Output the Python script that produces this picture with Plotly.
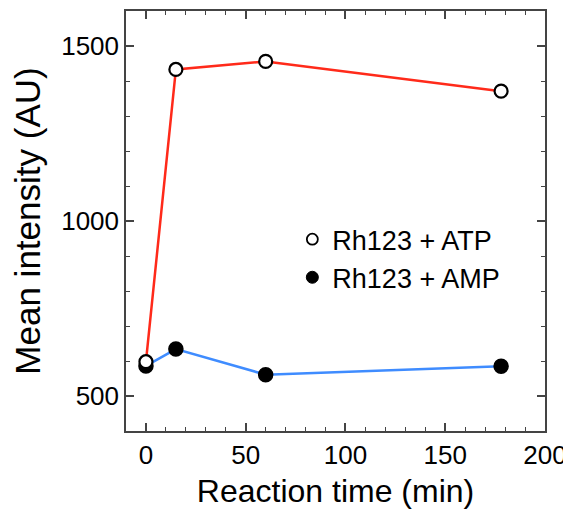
import plotly.graph_objects as go

time_atp = [0, 15, 60, 178]
intensity_atp = [598, 1433, 1456, 1371]
time_amp = [0, 15, 60, 178]
intensity_amp = [586, 634, 561, 585]

label_atp = "Rh123 + ATP"
label_amp = "Rh123 + AMP"

FONT = "Liberation Sans, Arial, Helvetica, sans-serif"

fig = go.Figure()

fig.add_trace(go.Scatter(
    x=time_amp, y=intensity_amp, mode="lines+markers", showlegend=False,
    line=dict(color="#3f8cff", width=2.5),
    marker=dict(size=14, color="black", line=dict(color="black", width=1.5)),
))
fig.add_trace(go.Scatter(
    x=time_atp, y=intensity_atp, mode="lines+markers", showlegend=False,
    line=dict(color="#ff2a1a", width=2.5),
    marker=dict(size=13, color="white", line=dict(color="black", width=2.2)),
))
# legend-only entries (markers only)
fig.add_trace(go.Scatter(
    x=[None], y=[None], mode="markers", name=label_atp,
    marker=dict(size=11, color="white", line=dict(color="black", width=1.8)),
))
fig.add_trace(go.Scatter(
    x=[None], y=[None], mode="markers", name=label_amp,
    marker=dict(size=12, color="black", line=dict(color="black", width=1)),
))

axis_common = dict(
    showline=True, linecolor="#444", linewidth=1.5, mirror="allticks",
    ticks="inside", ticklen=8, tickwidth=1.5, tickcolor="#444",
    showgrid=False, zeroline=False, automargin=False,
    tickfont=dict(family=FONT, size=26, color="black"),
)

fig.update_xaxes(
    range=[-10, 200], tickvals=[0, 50, 100, 150, 200],
    minor=dict(ticks="inside", ticklen=4, tickwidth=1.2, tickcolor="#444", dtick=10, tick0=0),
    title=dict(text="Reaction time (min)", font=dict(family=FONT, size=32, color="black"), standoff=14),
    **axis_common,
)
fig.update_yaxes(
    range=[400, 1600], tickvals=[500, 1000, 1500],
    minor=dict(ticks="inside", ticklen=4, tickwidth=1.2, tickcolor="#444", dtick=100, tick0=0),
    title=dict(text="Mean intensity (AU)", font=dict(family=FONT, size=35, color="black"), standoff=12),
    **axis_common,
)

# page body has an 8px margin; size the figure so the plot lands where the reference has it
fig.update_layout(
    width=563, height=501,
    margin=dict(l=118, r=26, t=3, b=78),
    paper_bgcolor="white", plot_bgcolor="white",
    font=dict(family=FONT, color="black"),
    legend=dict(
        x=0.397, y=0.514, xanchor="left", yanchor="top",
        font=dict(family=FONT, size=27, color="black"),
        bgcolor="rgba(0,0,0,0)", tracegroupgap=0,
    ),
)

fig.write_html("out.html")
